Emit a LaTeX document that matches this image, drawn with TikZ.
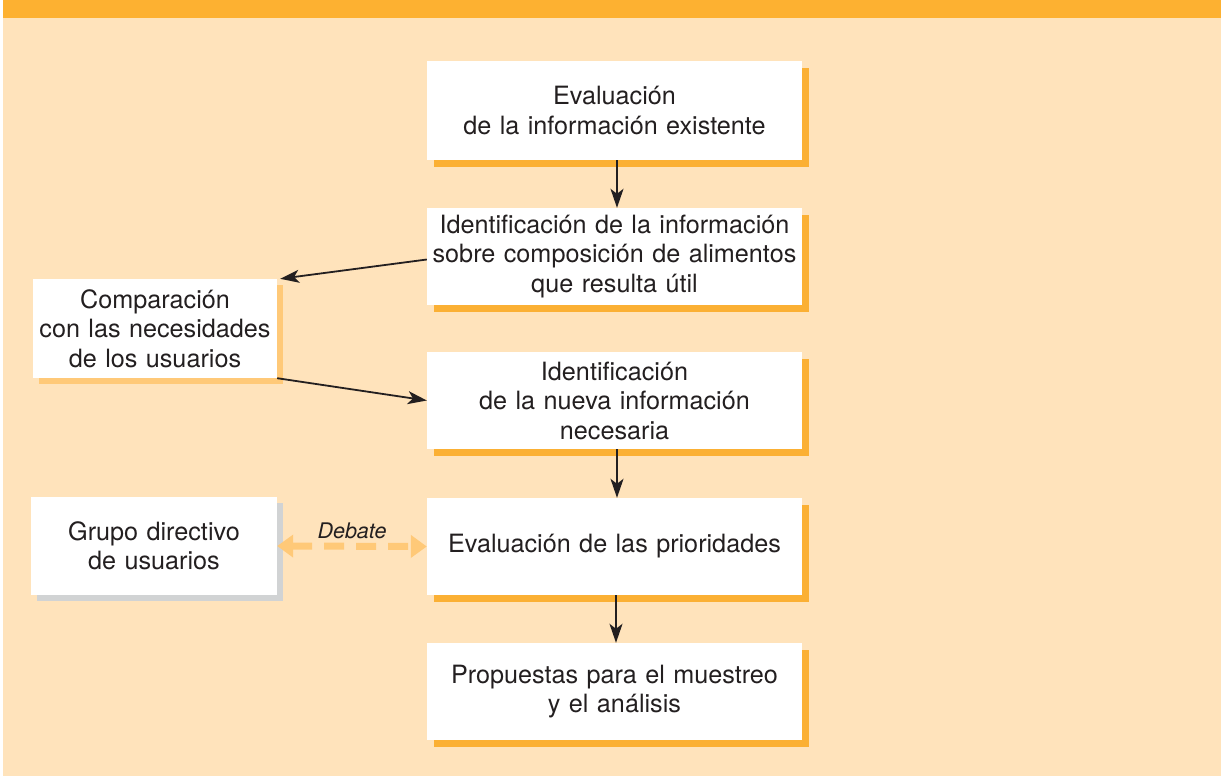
\documentclass[tikz,border=0pt]{standalone}
\usepackage{fontspec}
\setmainfont{TeX Gyre Heros}
\usetikzlibrary{arrows.meta,calc}
\definecolor{peach}{HTML}{FFE3BB}
\definecolor{barorange}{HTML}{FDB131}
\definecolor{shadoworange}{HTML}{FBB034}
\definecolor{lightorange}{HTML}{FFC978}
\definecolor{shadowgray}{HTML}{D1D3D4}
\definecolor{txt}{HTML}{231F20}
\tikzset{
  box/.style={fill=white, draw=none, minimum width=375pt, minimum height=99pt, inner sep=0pt,
    text width=370pt, align=center, font=\fontsize{25.2}{29.5}\selectfont, text=txt},
  sidebox/.style={box, minimum width=245pt, text width=240pt},
  flow/.style={draw=txt, line width=1.8pt, -{Stealth[length=19pt,width=13pt,inset=5pt]}},
  debate/.style={draw=lightorange, line width=7pt, dash pattern=on 20pt off 12pt,
    {Triangle[length=16pt,width=22pt]}-{Triangle[length=16pt,width=22pt]}}
}
\begin{document}
\begin{tikzpicture}[x=1pt,y=-1pt]
\useasboundingbox (0,0) rectangle (1221,776);
\fill[white] (0,0) rectangle (1221,776);
\fill[peach] (3,0) rectangle (1221,776);
\fill[barorange] (3,0) rectangle (1221,18);
% shadows
\fill[shadoworange] (434,68) rectangle (809,167);
\fill[shadoworange] (434,215) rectangle (809,312);
\fill[shadoworange] (434,359) rectangle (809,456);
\fill[shadoworange] (434,505) rectangle (809,602);
\fill[shadoworange] (434,650) rectangle (809,747);
\fill[lightorange] (39,285) rectangle (283,384);
\fill[shadowgray] (37,503) rectangle (283,601);
% boxes
\node[box, minimum height=99pt] (b1) at (614.5,110.5) {Evaluación\\de la información existente};
\node[box, minimum height=97pt] (b2) at (614.5,256.5) {Identificación de la información\\sobre composición de alimentos\\que resulta útil};
\node[box, minimum height=97pt] (b3) at (614.5,400.5) {Identificación\\de la nueva información\\necesaria};
\node[box, minimum height=97pt] (b4) at (614.5,546.5) {Evaluación de las prioridades};
\node[box, minimum height=97pt] (b5) at (614.5,691.5) {Propuestas para el muestreo\\y el análisis};
\node[sidebox, minimum width=244pt, minimum height=99pt] (c1) at (155,328.5) {Comparación\\con las necesidades\\de los usuarios};
\node[sidebox, minimum width=246pt, minimum height=98pt] (g1) at (154,546) {Grupo directivo\\de usuarios};
% connectors
\draw[flow] (b1.south -| 617,0) -- (b2.north -| 617,0);
\draw[flow] ($(b2.west)+(0,3)$) -- ($(c1.north east)+(3,0)$);
\draw[flow] (c1.south east) -- (b3.west);
\draw[flow] (b3.south -| 617,0) -- (b4.north -| 617,0);
\draw[flow] (b4.south -| 616,0) -- (b5.north -| 616,0);
\draw[debate] (g1.east) -- (b4.west) node[midway, above=1pt, font=\fontsize{21.5}{25}\selectfont\itshape, text=txt] (deb) {Debate};
\end{tikzpicture}
\end{document}
